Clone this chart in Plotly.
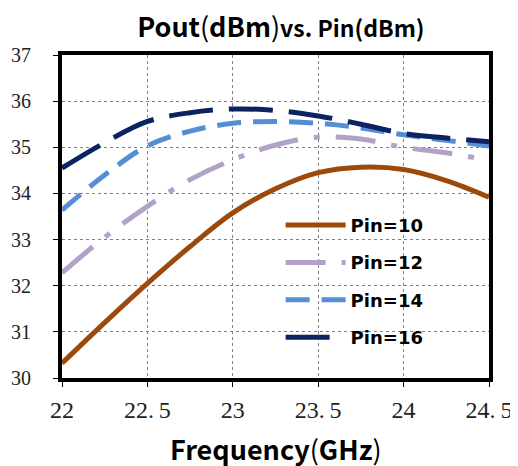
import plotly.graph_objects as go

freq = [22, 22.25, 22.5, 22.75, 23, 23.25, 23.5, 23.75, 24, 24.25, 24.5]
pin10 = [30.32, 31.2, 32.05, 32.85, 33.58, 34.1, 34.45, 34.57, 34.52, 34.28, 33.92]
pin12 = [32.28, 33.05, 33.72, 34.3, 34.73, 35.05, 35.22, 35.18, 35.0, 34.88, 34.72]
pin14 = [33.64, 34.4, 35.03, 35.35, 35.52, 35.56, 35.52, 35.42, 35.27, 35.15, 35.03]
pin16 = [34.55, 35.1, 35.56, 35.75, 35.83, 35.8, 35.68, 35.5, 35.3, 35.2, 35.12]

x_ticks = [22, 22.5, 23, 23.5, 24, 24.5]
x_ticktext = ["22", "22.\u20095", "23", "23.\u20095", "24", "24.\u20095"]
y_ticks = [30, 31, 32, 33, 34, 35, 36, 37]

series = [
    ("Pin=10", pin10, "#9C4A0C", "solid"),
    ("Pin=12", pin12, "#B3A2C7", "40px,16px,6px,16px"),
    ("Pin=14", pin14, "#558ED5", "24px,12px"),
    ("Pin=16", pin16, "#0B2461", "44px,16px"),
]

fig = go.Figure()
for name, vals, color, dash in series:
    fig.add_trace(go.Scatter(
        x=freq, y=vals, name=name, mode="lines", legendgroup=name,
        line=dict(color=color, width=5, dash=dash, shape="spline", smoothing=1.0),
    ))

# page body has an 8px margin, so the figure is 8px smaller and margins shifted
fig.update_layout(
    width=510, height=458,
    margin=dict(l=54, r=29, t=47, b=88),
    paper_bgcolor="white", plot_bgcolor="white",
    title=dict(
        text="<b>Pout</b>(<b>dBm</b>)<span style='font-size:23px'><b>vs. Pin(dBm)</b></span>",
        x=0.535, xanchor="center", y=0.958, yanchor="middle",
        font=dict(family="Noto Sans CJK JP", size=27, color="black"),
    ),
    legend=dict(
        x=0.512, y=0.53, xanchor="left", yanchor="top",
        bgcolor="rgba(0,0,0,0)",
        font=dict(family="DejaVu Sans", size=18, color="black", weight="bold"),
        tracegroupgap=11, itemwidth=60,
    ),
    xaxis=dict(
        range=[22, 24.5], tickvals=x_ticks, ticktext=x_ticktext, automargin=False,
        showgrid=True, gridcolor="#808080", griddash="dot", gridwidth=1,
        showline=True, linecolor="black", linewidth=4, mirror=True,
        ticks="outside", ticklen=5, tickcolor="black", ticklabelstandoff=2,
        tickfont=dict(family="Liberation Serif", size=24, color="#222"),
        zeroline=False,
    ),
    yaxis=dict(
        range=[30, 37], tickvals=y_ticks, automargin=False,
        showgrid=True, gridcolor="#808080", griddash="dot", gridwidth=1,
        showline=True, linecolor="black", linewidth=4, mirror=True,
        ticks="outside", ticklen=5, tickcolor="black", ticklabelstandoff=18,
        tickfont=dict(family="Liberation Serif", size=20, color="#222"),
        zeroline=False,
    ),
    annotations=[dict(
        text="<b>Frequency</b>(<b>GHz</b>)", xref="paper", yref="paper",
        x=0.5, y=0, xanchor="center", yanchor="middle", yshift=-70, showarrow=False,
        font=dict(family="Noto Sans CJK JP", size=27, color="black"),
    )],
)

fig.write_html("out.html")
